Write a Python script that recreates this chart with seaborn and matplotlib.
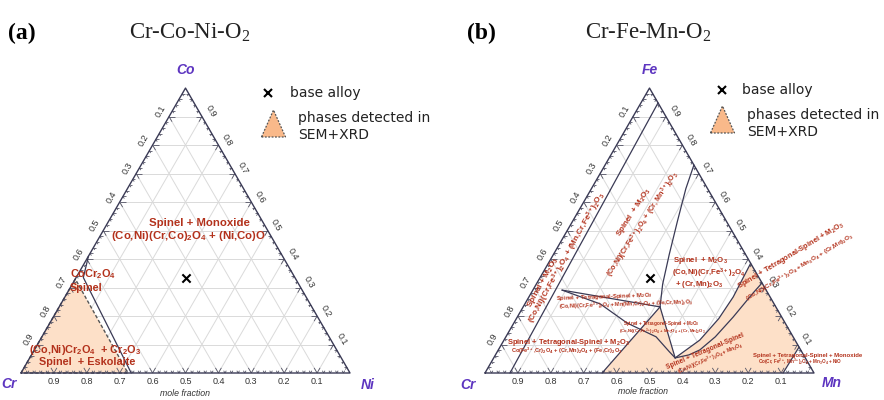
import numpy as np
import pandas as pd
import seaborn as sns
import matplotlib.pyplot as plt
from matplotlib.collections import LineCollection

sns.set_theme(style="white")
plt.rcParams['font.family'] = ['Liberation Sans', 'DejaVu Sans']
plt.rcParams['mathtext.default'] = 'regular'

# ---- data: compositions as (right-corner fraction, top-corner fraction) ----
# panel (a) Cr-Co-Ni : r = Ni, t = Co
base_alloy = (1/3, 1/3)
a_orange_r = [0.0, 0.0, 0.325]
a_orange_t = [0.0, 0.33, 0.0]
a_bound_r = [0.0, 0.022, 0.335]
a_bound_t = [0.41, 0.335, 0.0]

# panel (b) Cr-Fe-Mn : r = Mn, t = Fe
b_line1_r = [0.052, 0.076]
b_line1_t = [0.948, 0.0]
b_vert_r = [0.27, 0.287, 0.319, 0.352, 0.384, 0.416]
b_vert_t = [0.73, 0.647, 0.531, 0.416, 0.312, 0.232]
b_horiz_r = [0.0885, 0.416]
b_horiz_t = [0.291, 0.232]
b_lower_r = [0.0885, 0.229, 0.344, 0.4565, 0.5225, 0.5515]
b_lower_t = [0.291, 0.2425, 0.1755, 0.127, 0.075, 0.053]
b_steep_r = [0.416, 0.5515]
b_steep_t = [0.232, 0.053]
b_outer_r = [0.5515, 0.595, 0.615, 0.621, 0.6175, 0.615]
b_outer_t = [0.053, 0.1155, 0.1905, 0.2667, 0.335, 0.385]
b_inner_r = [0.5515, 0.588, 0.6125, 0.6365, 0.656, 0.6745, 0.684]
b_inner_t = [0.053, 0.0635, 0.081, 0.127, 0.196, 0.281, 0.316]
b_left_r = [0.356, 0.416]
b_left_t = [0.0, 0.232]
b_corner_r = [0.909, 0.906]
b_corner_t = [0.091, 0.0]

H = np.sqrt(3) / 2
S = 329.0          # pixels per unit triangle side
EDGE = '#3a3a55'
RED = '#b3311b'
PURPLE = '#5d35c0'
FILL = '#fde0c8'
LEG_FILL = '#f9b98a'


def xy(r, t):
    r = np.asarray(r, float)
    t = np.asarray(t, float)
    return r + t / 2, t * H


def px(ox, X, Y):
    return (X - ox) / S, (373 - Y) / S


def frame(ax):
    # grid
    segs = []
    for i in range(1, 10):
        v = i / 10
        segs.append([(v / 2, v * H), (1 - v / 2, v * H)])
        segs.append([(v, 0), (v + (1 - v) / 2, (1 - v) * H)])
        segs.append([(1 - v, 0), ((1 - v) / 2, (1 - v) * H)])
    ax.add_collection(LineCollection(segs, colors='#dadada', linewidths=0.7, zorder=1))
    # ticks
    ticks = []
    for k in range(1, 50):
        v = k / 50
        L = 0.018 if k % 5 == 0 else 0.008
        edges = [((1 - v, 0), [(0.5, H), (-0.5, H)]),
                 ((0.5 * (1 - v), H * (1 - v)), [(1, 0), (0.5, -H)]),
                 ((1 - v / 2, H * v), [(-1, 0), (-0.5, -H)])]
        for p, dirs in edges:
            for d in dirs:
                ticks.append([p, (p[0] + L * d[0], p[1] + L * d[1])])
    ax.add_collection(LineCollection(ticks, colors='#555566', linewidths=0.6, zorder=3))
    # edges
    ax.plot([0, 1, 0.5, 0], [0, 0, H, 0], color=EDGE, lw=1.0, zorder=4)
    # tick labels
    off = 0.03
    for i in range(1, 10):
        v = i / 10
        lab = f'{v:.1f}'
        ax.text(1 - v, -0.025, lab, ha='center', va='center', fontsize=6.5, color='#333333')
        x, y = 0.5 * (1 - v), H * (1 - v)
        ax.text(x - off * H, y + off * 0.5, lab, ha='center', va='center', fontsize=6.5,
                rotation=60, rotation_mode='anchor', color='#333333')
        x, y = 1 - v / 2, H * v
        ax.text(x + off * H, y + off * 0.5, lab, ha='center', va='center', fontsize=6.5,
                rotation=-60, rotation_mode='anchor', color='#333333')


def line(ax, r, t, **kw):
    x, y = xy(r, t)
    df = pd.DataFrame({'x': x, 'y': y, 'i': np.arange(len(x))})
    sns.lineplot(data=df, x='x', y='y', sort=False, estimator=None, color=EDGE,
                 lw=kw.get('lw', 0.9), ax=ax, zorder=5)


def rtext(ax, ox, X, Y, s, size, rot=0, ha='center', color=RED):
    ax.text(*px(ox, X, Y), s, ha=ha, va='center', fontsize=size, fontweight='bold',
            color=color, rotation=rot, rotation_mode='anchor', zorder=8)


def legend(ax, ox, cx, cy, tx, ty1, ty2, bx, by, btx):
    ax.plot(*px(ox, bx, by), marker='x', color='black', ms=5.5, mew=1.5, ls='none')
    ax.text(*px(ox, btx, by), 'base alloy', fontsize=10, va='center', ha='left',
            family='DejaVu Sans', color='#222222')
    tri = np.array([px(ox, cx - 12, cy + 13), px(ox, cx + 12, cy + 13), px(ox, cx, cy - 14)])
    ax.fill(tri[:, 0], tri[:, 1], facecolor=LEG_FILL, edgecolor='#555555', ls=(0, (1.5, 1.2)), lw=0.9)
    ax.text(*px(ox, tx, ty1), 'phases detected in', fontsize=10, va='center', ha='left',
            family='DejaVu Sans', color='#222222')
    ax.text(*px(ox, tx, ty2), 'SEM+XRD', fontsize=10, va='center', ha='left',
            family='DejaVu Sans', color='#222222')


fig = plt.figure(figsize=(8.84, 4.0), dpi=100)
ax_a = fig.add_axes([0, 0, 420 / 884, 1])
ax_b = fig.add_axes([442 / 884, 0, 442 / 884, 1])
OXA, OXB = 21, 485
for ax, ox, left, w in [(ax_a, OXA, 0, 420), (ax_b, OXB, 442, 442)]:
    ax.set_xlim((left - ox) / S, (left + w - ox) / S)
    ax.set_ylim(-27 / S, 373 / S)
    ax.axis('off')
    frame(ax)
    bx, by = xy(*base_alloy)
    sns.scatterplot(x=[float(bx)], y=[float(by)], marker='x', s=35, color='black',
                    linewidth=1.5, ax=ax, zorder=9)

# ---------------- panel (a) ----------------
x, y = xy(a_orange_r, a_orange_t)
ax_a.fill(x, y, facecolor=FILL, edgecolor='#555555', ls=(0, (2.5, 1.5)), lw=1.0, zorder=2)
line(ax_a, a_bound_r, a_bound_t)

ax_a.text(*px(OXA, 22, 33), '(a)', fontsize=17, fontweight='bold', family='Liberation Serif',
          ha='center', va='center', color='black')
ax_a.text(*px(OXA, 190, 33), 'Cr-Co-Ni-O$_2$', fontsize=16.5, family='Liberation Serif',
          ha='center', va='center', color='#222222')
ax_a.text(0.5, 0.921, 'Co', fontsize=10, fontweight='bold', style='italic', color=PURPLE,
          ha='center', va='center')
ax_a.text(-0.036, -0.034, 'Cr', fontsize=10, fontweight='bold', style='italic', color=PURPLE,
          ha='center', va='center')
ax_a.text(1.055, -0.036, 'Ni', fontsize=10, fontweight='bold', style='italic', color=PURPLE,
          ha='center', va='center')
ax_a.text(0.5, -0.061, 'mole fraction', fontsize=6.3, style='italic', ha='center', va='center',
          color='#333333')
legend(ax_a, OXA, 273.5, 124, 298, 118, 135, 268, 93, 290)

rtext(ax_a, OXA, 199, 223, 'Spinel + Monoxide', 8.2)
rtext(ax_a, OXA, 188, 236, '(Co,Ni)(Cr,Co)$_2$O$_4$ + (Ni,Co)O', 8.2)
rtext(ax_a, OXA, 70, 274, 'CoCr$_2$O$_4$', 7.8, ha='left')
rtext(ax_a, OXA, 70, 288, 'Spinel', 7.8, ha='left')
rtext(ax_a, OXA, 85, 350, '(Co,Ni)Cr$_2$O$_4$  + Cr$_2$O$_3$', 7.8)
rtext(ax_a, OXA, 87, 362, 'Spinel  + Eskolaite', 7.8)

# ---------------- panel (b) ----------------
poly_r = b_left_r + b_steep_r[1:] + b_outer_r[1:] + b_corner_r
poly_t = b_left_t + b_steep_t[1:] + b_outer_t[1:] + b_corner_t
x, y = xy(poly_r, poly_t)
ax_b.fill(x, y, facecolor=FILL, edgecolor='none', zorder=2)
for r, t in [(b_line1_r, b_line1_t), (b_vert_r, b_vert_t), (b_horiz_r, b_horiz_t),
             (b_lower_r, b_lower_t), (b_steep_r, b_steep_t), (b_outer_r, b_outer_t),
             (b_inner_r, b_inner_t), (b_left_r, b_left_t), (b_corner_r, b_corner_t)]:
    line(ax_b, r, t)

ax_b.text(*px(OXB, 481, 33), '(b)', fontsize=17, fontweight='bold', family='Liberation Serif',
          ha='center', va='center', color='black')
ax_b.text(*px(OXB, 648, 33), 'Cr-Fe-Mn-O$_2$', fontsize=16.5, family='Liberation Serif',
          ha='center', va='center', color='#222222')
ax_b.text(0.5, 0.921, 'Fe', fontsize=10, fontweight='bold', style='italic', color=PURPLE,
          ha='center', va='center')
ax_b.text(-0.052, -0.036, 'Cr', fontsize=10, fontweight='bold', style='italic', color=PURPLE,
          ha='center', va='center')
ax_b.text(1.055, -0.03, 'Mn', fontsize=10, fontweight='bold', style='italic', color=PURPLE,
          ha='center', va='center')
ax_b.text(0.48, -0.055, 'mole fraction', fontsize=6.3, style='italic', ha='center', va='center',
          color='#333333')
legend(ax_b, OXB, 722.5, 120, 747, 115, 132, 722, 90, 742)

rtext(ax_b, OXB, 543, 282, 'Spinel + M$_2$O$_3$', 6.0, rot=61)
rtext(ax_b, OXB, 567, 258, '(Co,Ni)(Cr,Fe$^{3+}$)$_2$O$_4$ + (Mn,Cr,Fe$^{3+}$)$_2$O$_3$', 5.9, rot=61)
rtext(ax_b, OXB, 634, 212, 'Spinel  + M$_2$O$_3$', 5.8, rot=57)
rtext(ax_b, OXB, 643, 224, '(Co,Ni)(Cr,Fe$^{3+}$)$_2$O$_4$ + (Cr, Mn$^{3+}$)$_2$O$_3$', 5.2, rot=57)
rtext(ax_b, OXB, 673, 260, 'Spinel  + M$_2$O$_3$', 5.6, ha='left')
rtext(ax_b, OXB, 672, 273, '(Co,Ni)(Cr,Fe$^{3+}$)$_2$O$_4$', 5.6, ha='left')
rtext(ax_b, OXB, 675, 284, '+ (Cr,Mn)$_2$O$_3$', 5.6, ha='left')
rtext(ax_b, OXB, 604, 297, 'Spinel + Tetragonal-Spinel + M$_2$O$_3$', 4.2, rot=2)
rtext(ax_b, OXB, 626, 305, '(Co,Ni)(Cr,Fe$^{3+}$)$_2$O$_4$ + Mn(Mn,Cr)$_2$O$_4$ + (Fe,Cr,Mn)$_2$O$_3$', 3.9, rot=2)
rtext(ax_b, OXB, 661, 323, 'Spinel + Tetragonal-Spinel + M$_2$O$_3$', 3.3)
rtext(ax_b, OXB, 662, 332, '(Co,Ni)(Cr,Fe$^{3+}$)$_2$O$_4$ + Mn$_3$O$_4$ + (Cr, Mn)$_2$O$_3$', 3.1)
rtext(ax_b, OXB, 568, 342, 'Spinel + Tetragonal-Spinel + M$_2$O$_3$', 5.4)
rtext(ax_b, OXB, 567, 351, 'Co(Fe$^{3+}$,Cr)$_2$O$_4$ + (Cr,Mn)$_2$O$_4$ + (Fe,Cr)$_2$O$_3$', 4.1)
rtext(ax_b, OXB, 791, 256, 'Spinel + Tetragonal-Spinel + M$_2$O$_3$', 5.4, rot=31)
rtext(ax_b, OXB, 800, 267, '(Co,Ni)(Cr,Fe$^{3+}$)$_2$O$_4$ + Mn$_3$O$_4$ + (Cr,Mn)$_2$O$_3$', 4.5, rot=31)
rtext(ax_b, OXB, 705, 351, 'Spinel + Tetragonal-Spinel', 4.8, rot=23)
rtext(ax_b, OXB, 711, 358, '(Co,Ni)(Cr,Fe$^{3+}$)$_2$O$_4$ + Mn$_3$O$_4$', 3.7, rot=23)
rtext(ax_b, OXB, 808, 355, 'Spinel + Tetragonal-Spinel + Monoxide', 4.35)
rtext(ax_b, OXB, 800, 362, 'Co(Cr, Fe$^{2+}$, Mn$^{3+}$)$_2$O$_4$ + Mn$_3$O$_4$ + NiO', 3.3)

fig.savefig('out.png', dpi=100)
